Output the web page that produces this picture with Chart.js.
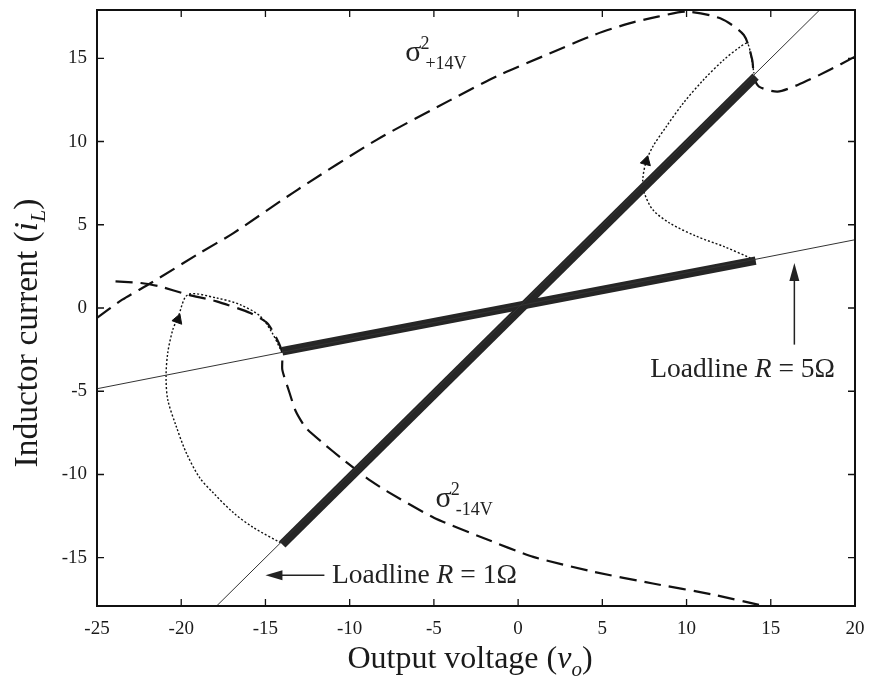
<!DOCTYPE html>
<html>
<head>
<meta charset="utf-8">
<script src="https://cdn.jsdelivr.net/npm/chart.js@4/dist/chart.umd.min.js"></script>
<style>
  body { margin: 0; background: #fff; }
  #wrap { width: 869px; height: 686px; }
</style>
</head>
<body>
<div id="wrap"><canvas id="phase" width="869" height="686"></canvas></div>
<script>
// axis ticks
const xTicks = [-25, -20, -15, -10, -5, 0, 5, 10, 15, 20];
const yTicks = [-15, -10, -5, 0, 5, 10, 15];

// loadlines (thin solid)
const loadR1V = [-18.2, 18.2];
const loadR1I = [-18.2, 18.2];
const loadR5V = [-25, 20];
const loadR5I = [-4.85, 4.1];

// steady state bands along the loadlines
const bandR1V = [-14.0, 14.1];
const bandR1I = [-14.2, 13.9];
const bandR5V = [-14.0, 14.1];
const bandR5I = [-2.6, 2.85];

// sigma^2 switching surfaces (dashed)
const sigPlusV = [-25, -23.5, -21.8, -18.9, -16.9, -13.1, -8.4, -4.0, -1.1, 1.9, 4.5, 6.6, 8.3, 10.0, 12.0, 13.4, 13.9, 14.0, 14.3, 15.4, 16.6, 18.3, 20.0];
const sigPlusI = [-0.6, 0.5, 1.5, 3.3, 4.5, 7.1, 10.1, 12.5, 14.0, 15.3, 16.4, 17.1, 17.5, 17.8, 17.4, 16.4, 14.9, 13.9, 13.3, 13.0, 13.4, 14.2, 15.1];
const sigMinusV = [-23.9, -22.4, -21.3, -19.6, -17.9, -15.9, -14.9, -14.3, -14.0, -14.0, -13.6, -13.2, -12.6, -11.6, -10.4, -9.0, -7.8, -5.0, -2.1, 0.9, 4.5, 8.0, 11.5, 14.6];
const sigMinusI = [1.6, 1.5, 1.3, 0.8, 0.4, -0.3, -0.9, -1.9, -2.7, -3.7, -5.0, -6.2, -7.2, -8.1, -9.1, -10.2, -11.0, -12.6, -13.8, -14.95, -15.85, -16.55, -17.2, -17.9];

// transient trajectories (dotted)
const trajLeftV = [-14.1, -15.7, -16.9, -18.1, -18.9, -19.7, -20.3, -20.8, -20.9, -20.8, -20.5, -20.2, -19.6, -17.9, -16.5, -15.3, -14.6, -14.1];
const trajLeftI = [-14.1, -13.2, -12.3, -11.1, -10.2, -8.7, -7.1, -5.5, -4.1, -2.7, -1.3, -0.6, 0.8, 0.6, 0.2, -0.5, -1.5, -2.5];
const trajRightV = [13.8, 12.2, 10.6, 9.0, 8.0, 7.5, 7.4, 7.6, 8.0, 8.8, 9.8, 11.0, 12.2, 13.2, 13.6, 13.8, 14.0];
const trajRightI = [3.0, 3.7, 4.3, 5.1, 5.9, 6.9, 7.7, 8.8, 9.7, 10.9, 12.3, 13.7, 14.9, 15.7, 15.9, 15.3, 14.1];

// direction arrows on the trajectories
const arrowV = [-20.2, 7.6];
const arrowI = [-0.7, 8.8];
const arrowRot = [20, 15];

const serif = '"Liberation Serif", "Times New Roman", serif';

function pts(xs, ys) {
    return xs.map((v, k) => ({ x: v, y: ys[k] }));
}

function runs(ctx, parts, cx, cy) {
    let total = 0;
    parts.forEach(p => {
        ctx.font = (p.italic ? 'italic ' : '') + p.size + 'px ' + serif;
        p.w = ctx.measureText(p.text).width;
        total += p.w;
    });
    let x = cx - total / 2;
    parts.forEach(p => {
        ctx.font = (p.italic ? 'italic ' : '') + p.size + 'px ' + serif;
        ctx.fillText(p.text, x, cy + (p.dy || 0));
        x += p.w;
    });
}

function sigmaLabel(ctx, text, px, py) {
    ctx.textAlign = 'left';
    ctx.textBaseline = 'alphabetic';
    ctx.font = '30px ' + serif;
    ctx.fillText('\u03c3', px, py);
    const w = ctx.measureText('\u03c3').width;
    ctx.font = '18px ' + serif;
    ctx.fillText('2', px + w - 1, py - 12);
    ctx.fillText(text, px + w + 4, py + 8);
}

function loadLabel(ctx, value, px, py) {
    ctx.textAlign = 'left';
    ctx.textBaseline = 'alphabetic';
    ctx.font = '27.5px ' + serif;
    ctx.fillText('Loadline ', px, py);
    let w = ctx.measureText('Loadline ').width;
    ctx.font = 'italic 27.5px ' + serif;
    ctx.fillText('R', px + w, py);
    w += ctx.measureText('R').width;
    ctx.font = '27.5px ' + serif;
    ctx.fillText(' = ' + value + '\u03a9', px + w, py);
}

function arrowHead(ctx, tx, ty, dir) {
    ctx.beginPath();
    if (dir === 'left') {
        ctx.moveTo(tx, ty);
        ctx.lineTo(tx + 17, ty - 5);
        ctx.lineTo(tx + 17, ty + 5);
    } else {
        ctx.moveTo(tx, ty);
        ctx.lineTo(tx - 5, ty + 18);
        ctx.lineTo(tx + 5, ty + 18);
    }
    ctx.closePath();
    ctx.fill();
}

const frame = {
    id: 'frame',
    afterDraw(chart) {
        const ctx = chart.ctx;
        const a = chart.chartArea;
        const xs = chart.scales.x;
        const ys = chart.scales.y;
        ctx.save();
        ctx.strokeStyle = '#111';
        ctx.fillStyle = '#111';

        // inward ticks on all sides
        ctx.lineWidth = 1.3;
        ctx.beginPath();
        xTicks.forEach(v => {
            const p = xs.getPixelForValue(v);
            ctx.moveTo(p, a.bottom); ctx.lineTo(p, a.bottom - 7);
            ctx.moveTo(p, a.top); ctx.lineTo(p, a.top + 7);
        });
        yTicks.forEach(v => {
            const p = ys.getPixelForValue(v);
            ctx.moveTo(a.left, p); ctx.lineTo(a.left + 7, p);
            ctx.moveTo(a.right, p); ctx.lineTo(a.right - 7, p);
        });
        ctx.stroke();

        // box
        ctx.lineWidth = 2;
        ctx.strokeRect(a.left, a.top, a.right - a.left, a.bottom - a.top);

        // loadline labels with arrows
        ctx.fillStyle = '#222';
        ctx.strokeStyle = '#222';
        loadLabel(ctx, '1', xs.getPixelForValue(-11.05), ys.getPixelForValue(-16.5));
        const a1y = ys.getPixelForValue(-16.05);
        const a1x0 = xs.getPixelForValue(-11.5), a1x1 = xs.getPixelForValue(-15.0);
        ctx.lineWidth = 1.5;
        ctx.beginPath();
        ctx.moveTo(a1x0, a1y); ctx.lineTo(a1x1 + 10, a1y);
        ctx.stroke();
        arrowHead(ctx, a1x1, a1y, 'left');

        loadLabel(ctx, '5', xs.getPixelForValue(7.84), ys.getPixelForValue(-4.15));
        const a5x = xs.getPixelForValue(16.4);
        const a5y0 = ys.getPixelForValue(-2.2), a5y1 = ys.getPixelForValue(2.7);
        ctx.beginPath();
        ctx.moveTo(a5x, a5y0); ctx.lineTo(a5x, a5y1 + 10);
        ctx.stroke();
        arrowHead(ctx, a5x, a5y1, 'up');

        // sigma labels
        sigmaLabel(ctx, '+14V', xs.getPixelForValue(-6.7), ys.getPixelForValue(14.85));
        sigmaLabel(ctx, '-14V', xs.getPixelForValue(-4.9), ys.getPixelForValue(-11.97));

        // axis titles
        ctx.fillStyle = '#1a1a1a';
        ctx.textAlign = 'left';
        runs(ctx, [
            { text: 'Output voltage (', size: 32 },
            { text: 'v', size: 32, italic: true },
            { text: 'o', size: 21, italic: true, dy: 8 },
            { text: ')', size: 32 }
        ], 470, 668);

        ctx.save();
        ctx.translate(37, 333);
        ctx.rotate(-Math.PI / 2);
        runs(ctx, [
            { text: 'Inductor current (', size: 33.5 },
            { text: 'i', size: 33.5, italic: true },
            { text: 'L', size: 22, italic: true, dy: 8 },
            { text: ')', size: 33.5 }
        ], 0, 0);
        ctx.restore();

        ctx.restore();
    }
};

const line = (data, extra) => Object.assign({
    data: data,
    showLine: true,
    pointRadius: 0,
    borderColor: '#111',
    borderWidth: 1,
    fill: false
}, extra);

new Chart(document.getElementById('phase'), {
    type: 'scatter',
    data: {
        datasets: [
            line(pts(loadR1V, loadR1I), { borderWidth: 1, borderColor: '#333' }),
            line(pts(loadR5V, loadR5I), { borderWidth: 1, borderColor: '#333' }),
            line(pts(bandR1V, bandR1I), { borderWidth: 9, borderColor: '#262626' }),
            line(pts(bandR5V, bandR5I), { borderWidth: 8.5, borderColor: '#262626' }),
            line(pts(bandR1V, bandR1I), { borderWidth: 5, borderColor: 'rgba(150,150,150,0.5)', borderDash: [2, 3] }),
            line(pts(bandR5V, bandR5I), { borderWidth: 4, borderColor: 'rgba(150,150,150,0.5)', borderDash: [2, 3] }),
            line(pts(sigPlusV, sigPlusI), { borderWidth: 2.2, borderDash: [17, 8], tension: 0.25 }),
            line(pts(sigMinusV, sigMinusI), { borderWidth: 2.2, borderDash: [17, 8], tension: 0.2 }),
            line(pts(trajLeftV, trajLeftI), { borderWidth: 1.4, borderDash: [2, 2], tension: 0.3 }),
            line(pts(trajRightV, trajRightI), { borderWidth: 1.4, borderDash: [2, 2], tension: 0.3 }),
            {
                data: pts(arrowV, arrowI),
                pointStyle: 'triangle',
                pointRadius: 6,
                rotation: arrowRot,
                backgroundColor: '#111',
                borderColor: '#111',
                borderWidth: 1
            }
        ]
    },
    options: {
        responsive: false,
        animation: false,
        events: [],
        layout: { padding: { left: 0, right: 14, top: 10, bottom: 0 } },
        plugins: {
            legend: { display: false },
            tooltip: { enabled: false }
        },
        scales: {
            x: {
                type: 'linear',
                min: -25,
                max: 20,
                afterFit: s => {
                    s.height = 80;
                    s.paddingLeft = 0;
                    s.paddingRight = 0;
                },
                afterBuildTicks: s => { s.ticks = xTicks.map(v => ({ value: v })); },
                grid: { display: false, drawTicks: false },
                border: { display: false },
                ticks: {
                    padding: 12,
                    color: '#1a1a1a',
                    font: { family: serif, size: 19 }
                }
            },
            y: {
                type: 'linear',
                min: -17.9,
                max: 17.9,
                afterFit: s => {
                    s.width = 97;
                    s.paddingTop = 0;
                    s.paddingBottom = 0;
                },
                afterBuildTicks: s => { s.ticks = yTicks.map(v => ({ value: v })); },
                grid: { display: false, drawTicks: false },
                border: { display: false },
                ticks: {
                    padding: 10,
                    color: '#1a1a1a',
                    font: { family: serif, size: 19 }
                }
            }
        }
    },
    plugins: [frame]
});
</script>
</body>
</html>
